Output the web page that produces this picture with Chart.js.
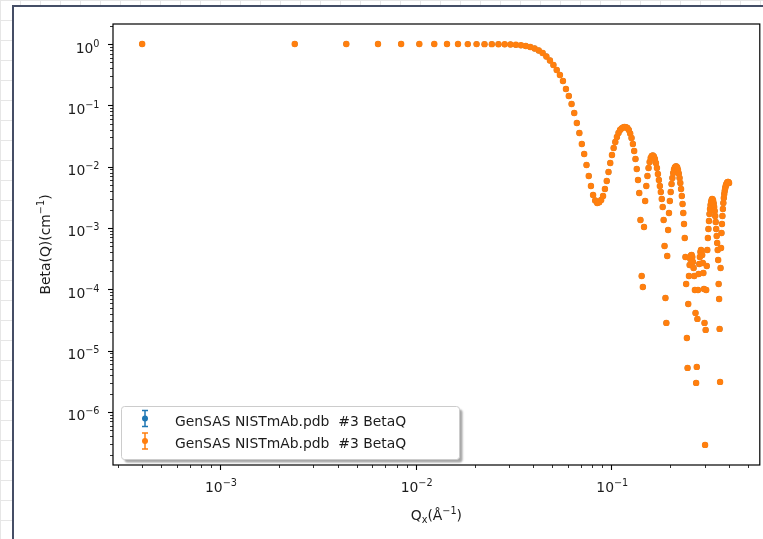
<!DOCTYPE html>
<html lang="en">
<head>
<meta charset="UTF-8">
<title>Beta(Q) - GenSAS NISTmAb.pdb</title>
<script src="https://cdn.jsdelivr.net/npm/chart.js"></script>
<style>
  html, body { margin: 0; padding: 0; }
  body {
    width: 763px; height: 539px; overflow: hidden; position: relative;
    background-color: #fff;
    background-image: linear-gradient(#e6e6e6 1px, transparent 1px),
                      linear-gradient(90deg, #e6e6e6 1px, transparent 1px);
    background-size: 20px 20px;
  }
  #frame {
    position: absolute; left: 12px; top: 5px; right: -10px; bottom: -10px;
    background: #fff;
    border-left: 2px solid #454e66;
    border-top: 2px solid #454e66;
  }
  #chart { position: absolute; left: 0; top: 0; }
</style>
</head>
<body>
<div id="frame"></div>
<canvas id="chart" width="763" height="539"></canvas>
<script>
// Q (1/Angstrom) of each sample
const qValues = [
  0.00040, 0.00241, 0.00442, 0.00642, 0.00843, 0.01044, 0.01245, 0.01446, 0.01646, 0.01847,
  0.02048, 0.02249, 0.02450, 0.02650, 0.02851, 0.03052, 0.03253, 0.03454, 0.03654, 0.03855,
  0.04056, 0.04257, 0.04458, 0.04658, 0.04859, 0.05060, 0.05261, 0.05462, 0.05662, 0.05863,
  0.06064, 0.06265, 0.06466, 0.06666, 0.06867, 0.07068, 0.07269, 0.07470, 0.07670, 0.07871,
  0.08072, 0.08273, 0.08474, 0.08674, 0.08875, 0.09076, 0.09277, 0.09478, 0.09678, 0.09879,
  0.10080, 0.10281, 0.10482, 0.10682, 0.10883, 0.11084, 0.11285, 0.11486, 0.11686, 0.11887,
  0.12088, 0.12289, 0.12490, 0.12690, 0.12891, 0.13092, 0.13293, 0.13494, 0.13694, 0.13895,
  0.14096, 0.14297, 0.14498, 0.14698, 0.14899, 0.15100, 0.15301, 0.15502, 0.15702, 0.15903,
  0.16104, 0.16305, 0.16506, 0.16706, 0.16907, 0.17108, 0.17309, 0.17510, 0.17710, 0.17911,
  0.18112, 0.18313, 0.18514, 0.18714, 0.18915, 0.19116, 0.19317, 0.19518, 0.19718, 0.19919,
  0.20120, 0.20321, 0.20522, 0.20722, 0.20923, 0.21124, 0.21325, 0.21526, 0.21726, 0.21927,
  0.22128, 0.22329, 0.22530, 0.22730, 0.22931, 0.23132, 0.23333, 0.23534, 0.23734, 0.23935,
  0.24136, 0.24337, 0.24538, 0.24738, 0.24939, 0.25140, 0.25341, 0.25542, 0.25742, 0.25943,
  0.26144, 0.26345, 0.26546, 0.26746, 0.26947, 0.27148, 0.27349, 0.27550, 0.27750, 0.27951,
  0.28152, 0.28353, 0.28554, 0.28754, 0.28955, 0.29156, 0.29357, 0.29558, 0.29758, 0.29959,
  0.30160, 0.30361, 0.30562, 0.30762, 0.30963, 0.31164, 0.31365, 0.31566, 0.31766, 0.31967,
  0.32168, 0.32369, 0.32570, 0.32770, 0.32971, 0.33172, 0.33373, 0.33574, 0.33774, 0.33975,
  0.34176, 0.34377, 0.34578, 0.34778, 0.34979, 0.35180, 0.35381, 0.35582, 0.35782, 0.35983,
  0.36184, 0.36385, 0.36586, 0.36786, 0.36987, 0.37188, 0.37389, 0.37590, 0.37790, 0.37991,
  0.38192, 0.38393, 0.38594, 0.38794, 0.38995, 0.39196, 0.39397, 0.39598, 0.39798, 0.39999
];

// Beta(Q) (1/cm) at each Q
const betaQ = [
  1.0000, 0.9999, 0.9998, 0.9996, 0.9994, 0.9991, 0.9987, 0.9982, 0.9976, 0.9969,
  0.9961, 0.9952, 0.9941, 0.9922, 0.9891, 0.9830, 0.9700, 0.9520, 0.9280, 0.8940,
  0.8450, 0.7840, 0.7130, 0.6250, 0.5380, 0.4550, 0.3770, 0.3124, 0.2493, 0.1847,
  0.1421, 0.1052, 0.0750, 0.0516, 0.0354, 0.02344, 0.01611, 0.01066, 0.00705, 0.00484,
  3.456e-3, 2.812e-3, 2.560e-3, 2.620e-3, 2.866e-3, 3.330e-3, 4.329e-3, 5.846e-3, 8.196e-3, 1.149e-2,
  1.551e-2, 2.018e-2, 2.527e-2, 3.049e-2, 3.542e-2, 3.963e-2, 4.194e-2, 4.354e-2, 4.437e-2, 4.404e-2,
  4.273e-2, 3.963e-2, 3.476e-2, 2.936e-2, 2.344e-2, 1.803e-2, 1.335e-2, 9.173e-3, 6.070e-3, 3.726e-3,
  1.353e-3, 1.654e-4, 1.094e-4, 1.040e-3, 2.760e-3, 4.840e-3, 7.050e-3, 9.524e-3, 1.193e-2, 1.386e-2,
  1.494e-2, 1.523e-2, 1.467e-2, 1.335e-2, 1.149e-2, 9.524e-3, 7.603e-3, 6.070e-3, 4.840e-3, 3.868e-3,
  2.975e-3, 2.203e-3, 1.353e-3, 5.097e-4, 7.241e-5, 2.834e-5, 3.503e-4, 9.294e-4, 1.759e-3, 2.760e-3,
  3.868e-3, 5.224e-3, 6.543e-3, 7.897e-3, 9.002e-3, 9.705e-3, 1.008e-2, 1.008e-2, 9.705e-3, 8.835e-3,
  7.749e-3, 6.543e-3, 5.423e-3, 4.329e-3, 3.330e-3, 2.466e-3, 1.759e-3, 1.164e-3, 6.884e-4, 3.373e-4,
  1.225e-4, 1.613e-5, 5.234e-6, 5.781e-5, 1.654e-4, 2.498e-4, 3.129e-4, 3.569e-4, 3.636e-4, 3.373e-4,
  2.796e-4, 2.233e-4, 1.654e-4, 9.777e-5, 4.124e-5, 2.980e-6, 5.434e-6, 3.293e-5, 9.777e-5, 1.782e-4,
  2.594e-4, 3.373e-4, 4.071e-4, 4.387e-4, 4.225e-4, 3.636e-4, 2.694e-4, 1.851e-4, 1.015e-4, 2.834e-5,
  2.910e-7, 2.179e-5, 9.777e-5, 2.406e-4, 4.387e-4, 6.884e-4, 9.649e-4, 1.303e-3, 1.694e-3, 2.044e-3,
  2.375e-3, 2.658e-3, 2.866e-3, 2.975e-3, 2.920e-3, 2.760e-3, 2.513e-3, 2.203e-3, 1.896e-3, 1.572e-3,
  1.255e-3, 9.649e-4, 7.422e-4, 5.705e-4, 4.387e-4, 3.014e-4, 1.225e-4, 6.975e-5, 2.262e-5, 3.094e-6,
  2.233e-4, 4.729e-4, 8.304e-4, 1.164e-3, 1.572e-3, 2.044e-3, 2.560e-3, 3.089e-3, 3.589e-3, 4.018e-3,
  4.413e-3, 4.757e-3, 5.031e-3, 5.224e-3, 5.423e-3, 5.527e-3, 5.631e-3, 5.631e-3, 5.527e-3, 5.423e-3
];

const seriesLabels = ['GenSAS NISTmAb.pdb  #3 BetaQ', 'GenSAS NISTmAb.pdb  #3 BetaQ'];
const seriesColors = ['#1f77b4', '#ff7f0e'];

// decade exponents that carry a 10^n label
const xTickExps = [-3, -2, -1];
const yTickExps = [0, -1, -2, -3, -4, -5, -6];

const FONT = '"DejaVu Sans", sans-serif';
const BIG = 13.9, SMALL = 9.7;
const INK = '#1c1c1c';

// draw a run of text pieces (normal / raised / lowered) as one label
function drawRich(ctx, parts, x, y, align) {
  let w = 0;
  parts.forEach(p => {
    ctx.font = p.size + 'px ' + FONT;
    p.w = ctx.measureText(p.text).width;
    w += p.w;
  });
  let cx = align === 'right' ? x - w : align === 'center' ? x - w / 2 : x;
  parts.forEach(p => {
    ctx.font = p.size + 'px ' + FONT;
    ctx.fillText(p.text, cx, y + p.dy);
    cx += p.w;
  });
}

function pow10Label(e) {
  const s = e < 0 ? '\u2212' + (-e) : String(e);
  return [{text: '10', size: BIG, dy: 0}, {text: s, size: SMALL, dy: -6}];
}

function logTicks(scale, fromExp, toExp) {
  const out = [];
  for (let e = fromExp; e <= toExp; e++) {
    for (let m = 1; m <= 9; m++) {
      const v = m * Math.pow(10, e);
      if (v >= scale.min && v <= scale.max) out.push({v, major: m === 1});
    }
  }
  return out;
}

const axesFrame = {
  id: 'axesFrame',
  afterDraw(chart) {
    const {ctx, chartArea: a} = chart;
    const xs = chart.scales.x, ys = chart.scales.y;
    ctx.save();
    ctx.strokeStyle = '#000';

    // minor + major ticks, outward
    logTicks(xs, -4, -1).forEach(t => {
      const px = Math.round(xs.getPixelForValue(t.v)) + 0.5;
      ctx.lineWidth = t.major ? 1.1 : 0.8;
      ctx.beginPath();
      ctx.moveTo(px, a.bottom);
      ctx.lineTo(px, a.bottom + (t.major ? 5 : 3));
      ctx.stroke();
    });
    logTicks(ys, -7, 0).forEach(t => {
      const py = Math.round(ys.getPixelForValue(t.v)) + 0.5;
      ctx.lineWidth = t.major ? 1.1 : 0.8;
      ctx.beginPath();
      ctx.moveTo(a.left, py);
      ctx.lineTo(a.left - (t.major ? 5 : 3), py);
      ctx.stroke();
    });

    // axes box
    ctx.lineWidth = 1.2;
    ctx.strokeRect(a.left, a.top, a.right - a.left, a.bottom - a.top);

    // tick labels
    ctx.fillStyle = INK;
    ctx.textBaseline = 'alphabetic';
    xTickExps.forEach(e => {
      drawRich(ctx, pow10Label(e), xs.getPixelForValue(Math.pow(10, e)) + 1, a.bottom + 27, 'center');
    });
    yTickExps.forEach(e => {
      drawRich(ctx, pow10Label(e), 99.5, ys.getPixelForValue(Math.pow(10, e)) + 8.5, 'right');
    });

    // axis titles
    drawRich(ctx, [
      {text: 'Q', size: BIG, dy: 0},
      {text: 'x', size: SMALL, dy: 3},
      {text: '(\u00c5', size: BIG, dy: 0},
      {text: '\u22121', size: SMALL, dy: -6},
      {text: ')', size: BIG, dy: 0}
    ], (a.left + a.right) / 2, 519.5, 'center');

    ctx.save();
    ctx.translate(50, (a.top + a.bottom) / 2);
    ctx.rotate(-Math.PI / 2);
    drawRich(ctx, [
      {text: 'Beta(Q)(cm', size: BIG, dy: 0},
      {text: '\u22121', size: SMALL, dy: -6},
      {text: ')', size: BIG, dy: 0}
    ], 0, 0, 'center');
    ctx.restore();

    // legend box with drop shadow
    const lg = {x: 121.5, y: 406.5, w: 338, h: 53};
    ctx.save();
    ctx.shadowColor = 'rgba(0,0,0,0.35)';
    ctx.shadowOffsetX = 3;
    ctx.shadowOffsetY = 3;
    ctx.shadowBlur = 2;
    ctx.fillStyle = '#fff';
    ctx.beginPath();
    ctx.roundRect(lg.x, lg.y, lg.w, lg.h, 3);
    ctx.fill();
    ctx.restore();
    ctx.strokeStyle = '#cccccc';
    ctx.lineWidth = 1;
    ctx.beginPath();
    ctx.roundRect(lg.x, lg.y, lg.w, lg.h, 3);
    ctx.stroke();

    chart.data.datasets.forEach((ds, i) => {
      const cy = 418.5 + i * 22.4;
      const mx = 145;
      ctx.strokeStyle = ds.backgroundColor;
      ctx.fillStyle = ds.backgroundColor;
      ctx.lineWidth = 1.5;
      ctx.beginPath();
      ctx.moveTo(mx, cy - 8); ctx.lineTo(mx, cy + 8);
      ctx.moveTo(mx - 3, cy - 8); ctx.lineTo(mx + 3, cy - 8);
      ctx.moveTo(mx - 3, cy + 8); ctx.lineTo(mx + 3, cy + 8);
      ctx.stroke();
      ctx.beginPath();
      ctx.arc(mx, cy, 3, 0, Math.PI * 2);
      ctx.fill();
      ctx.fillStyle = INK;
      ctx.font = BIG + 'px ' + FONT;
      ctx.fillText(ds.label, 175, cy + 7);
    });

    ctx.restore();
  }
};

const points = qValues.map((q, i) => ({x: q, y: betaQ[i]}));

// the second (orange) series sits on top and slightly covers the first
const markerRadius = [2.9, 3.2];

new Chart(document.getElementById('chart').getContext('2d'), {
  type: 'scatter',
  data: {
    datasets: seriesLabels.map((label, i) => ({
      label: label,
      data: points,
      backgroundColor: seriesColors[i],
      borderColor: seriesColors[i],
      pointRadius: markerRadius[i],
      pointBorderWidth: 0,
      pointHoverRadius: markerRadius[i],
      order: seriesLabels.length - i
    }))
  },
  options: {
    responsive: false,
    animation: false,
    devicePixelRatio: 1,
    layout: {padding: {left: 113, top: 24, right: 3, bottom: 74}},
    plugins: {legend: {display: false}, tooltip: {enabled: false}},
    scales: {
      x: {type: 'logarithmic', min: 2.838e-4, max: 0.5742, display: false},
      y: {type: 'logarithmic', min: 1.367e-7, max: 2.119, display: false}
    }
  },
  plugins: [axesFrame]
});
</script>
</body>
</html>
